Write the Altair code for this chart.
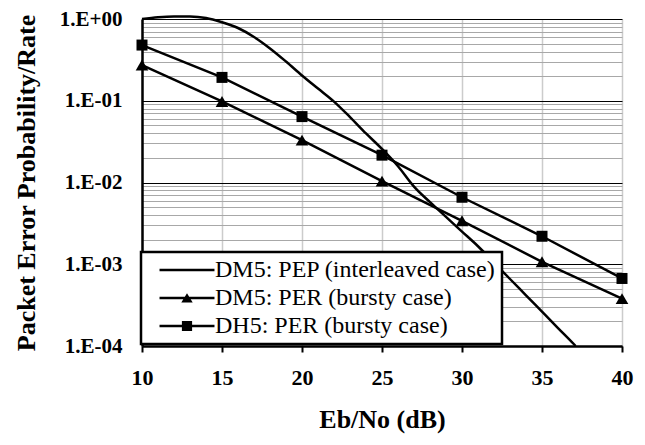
import altair as alt
import pandas as pd

S_PEP = "DM5: PEP (interleaved case)"
S_DM5 = "DM5: PER (bursty case)"
S_DH5 = "DH5: PER (bursty case)"
series_order = [S_PEP, S_DM5, S_DH5]

# PEP curve
pep_x = [10, 11, 12, 13, 14, 15, 16, 17, 18, 19, 20, 21, 22, 23, 24, 25,
         26, 27, 28, 29, 30, 31, 32, 33, 34, 35, 36, 37, 37.1]
pep_y = [1.0, 1.052, 1.076, 1.074, 1.028, 0.912, 0.776, 0.603, 0.437, 0.302,
         0.204, 0.141, 0.0977, 0.0631, 0.0398, 0.0257, 0.0158, 0.00891,
         0.00575, 0.0038, 0.00251, 0.00166, 0.00105, 0.00066, 0.000417,
         0.000263, 0.000166, 0.000105, 0.0001]

per_x = [10, 15, 20, 25, 30, 35, 40]
dm5_per = [0.273, 0.098, 0.033, 0.0104, 0.0034, 0.00107, 0.00038]
dh5_per = [0.48, 0.193, 0.064, 0.0216, 0.0066, 0.0022, 0.00067]

x_ticks = [10, 15, 20, 25, 30, 35, 40]
y_ticks = [m * 10.0 ** e for e in range(-4, 0) for m in range(1, 10)] + [1.0]

# legend symbols: line segment with (optional) marker, as filled paths
legend_paths = [
    "M-4.58,-0.21H4.58V0.21H-4.58Z",
    "M-4.58,-0.21H4.58V0.21H-4.58ZM0,-0.8L0.95,0.75L-0.95,0.75Z",
    "M-4.58,-0.21H4.58V0.21H-4.58ZM-0.85,-0.85H0.85V0.85H-0.85Z",
]

pep_df = pd.DataFrame({"x": pep_x, "y": pep_y, "series": S_PEP})
per_df = pd.concat([
    pd.DataFrame({"x": per_x, "y": dm5_per, "series": S_DM5}),
    pd.DataFrame({"x": per_x, "y": dh5_per, "series": S_DH5}),
], ignore_index=True)

FONT = "Liberation Serif"
decade_test = "abs(log(datum.value)/LN10 - round(log(datum.value)/LN10)) < 0.001"
label_expr = (
    f"({decade_test}) ? ('1.E' + (datum.value >= 1 ? '+' : '-') + '0' + "
    "abs(round(log(datum.value)/LN10))) : ''"
)

x_enc = alt.X(
    "x:Q",
    scale=alt.Scale(domain=[10, 40], nice=False, zero=False),
    axis=alt.Axis(
        title="Eb/No (dB)", values=x_ticks, format="d", labelFlush=False,
        grid=True, gridColor="#cccccc", gridWidth=1.5,
        domainColor="black", domainWidth=2.5,
        ticks=True, tickColor="black", tickWidth=2, tickSize=6,
        labelPadding=15, titlePadding=18,
        labelFontSize=22, titleFontSize=26,
    ),
)
y_enc = alt.Y(
    "y:Q",
    scale=alt.Scale(type="log", domain=[0.0001, 1], nice=False),
    axis=alt.Axis(
        title="Packet Error Probability/Rate", values=y_ticks,
        labelExpr=label_expr, labelOverlap=False, labelFlush=False,
        grid=True,
        gridColor={"condition": {"test": decade_test, "value": "black"}, "value": "#a8a8a8"},
        gridWidth=1,
        domainColor="black", domainWidth=2.5,
        ticks=False, labelPadding=20, titlePadding=20,
        labelFontSize=21, titleFontSize=26,
    ),
)

pep_line = alt.Chart(pep_df).mark_line(
    color="black", strokeWidth=2.5, interpolate="monotone"
).encode(x=x_enc, y=y_enc)

per_lines = alt.Chart(per_df).mark_line(
    color="black", strokeWidth=2.5
).encode(x=x_enc, y=y_enc, detail="series:N")

tri = alt.Chart(per_df).transform_filter(
    alt.datum.series == S_DM5
).mark_point(shape="triangle-up", filled=True, size=160, color="black", opacity=1).encode(
    x=x_enc, y=y_enc
)

sq = alt.Chart(per_df).transform_filter(
    alt.datum.series == S_DH5
).mark_point(shape="square", filled=True, size=121, color="black", opacity=1).encode(
    x=x_enc, y=y_enc
)

legend_layer = alt.Chart(per_df).transform_filter("false").mark_point(
    filled=True, size=144, color="black", opacity=1
).encode(
    x=x_enc, y=y_enc,
    shape=alt.Shape(
        "series:N",
        scale=alt.Scale(domain=series_order, range=legend_paths),
        legend=alt.Legend(
            title=None, orient="none", legendX=-1, legendY=233,
            fillColor="white", strokeColor="black", padding=6, rowPadding=4,
            symbolOffset=28, labelOffset=16, symbolSize=144,
            symbolFillColor="black", symbolOpacity=1,
            labelFont=FONT, labelFontSize=24, labelColor="black",
            labelLimit=0,
        ),
    ),
)

chart = alt.layer(pep_line, per_lines, tri, sq, legend_layer).properties(
    width=480, height=327,
    autosize=alt.AutoSizeParams(type="none"),
    padding={"left": 134, "top": 11, "right": 12, "bottom": 90},
).configure_view(
    stroke=None
).configure_axis(
    labelFont=FONT, titleFont=FONT, labelFontWeight="bold", titleFontWeight="bold",
    labelColor="black", titleColor="black",
).configure_legend(
    strokeWidth=2.5, labelFont=FONT, labelFontSize=24, labelColor="black",
)

chart.save("out.html", embed_options={"renderer": "svg", "actions": False})
